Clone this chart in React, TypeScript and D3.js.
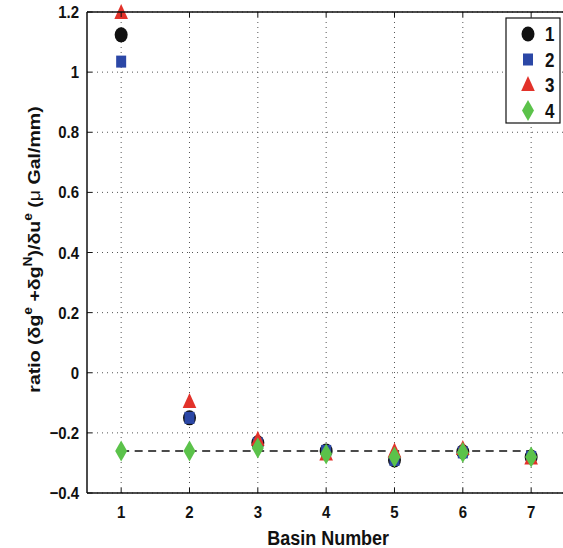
import React from "react";
import * as d3 from "d3";

const basins = [1, 2, 3, 4, 5, 6, 7];
const series1 = [1.124, -0.15, -0.233, -0.26, -0.29, -0.263, -0.28];
const series2 = [1.035, -0.15, -0.235, -0.26, -0.29, -0.265, -0.28];
const series3 = [1.197, -0.097, -0.223, -0.272, -0.262, -0.254, -0.285];
const series4 = [-0.26, -0.26, -0.25, -0.27, -0.28, -0.265, -0.28];
const refLevel = -0.26;
const yTicks = [-0.4, -0.2, 0, 0.2, 0.4, 0.6, 0.8, 1, 1.2];
const legendLabels = ["1", "2", "3", "4"];

const W = 563;
const H = 548;
const M = { left: 87, top: 12, bottom: 493 };
const font = "'Liberation Sans', Arial, Helvetica, sans-serif";
const SY = 1.15;

const colors = ["#111111", "#2b47a6", "#e2322a", "#5bc24a"];

function Marker({ kind, x, y }: { kind: number; x: number; y: number }) {
  if (kind === 0) return <ellipse cx={x} cy={y} rx={6.5} ry={7.5} fill={colors[0]} />;
  if (kind === 1) return <rect x={x - 5} y={y - 6} width={10} height={12} fill={colors[1]} />;
  if (kind === 2)
    return (
      <path d={`M${x},${y - 9}L${x + 6.8},${y + 6}L${x - 6.8},${y + 6}Z`} fill={colors[2]} />
    );
  return <path d={`M${x},${y - 10.5}L${x + 6},${y}L${x},${y + 10.5}L${x - 6},${y}Z`} fill={colors[3]} />;
}

function T({ x, y, anchor, size, children }: { x: number; y: number; anchor?: string; size: number; children: React.ReactNode }) {
  return (
    <text transform={`translate(${x},${y}) scale(1,${SY})`} textAnchor={anchor || "start"} fontSize={size} fontWeight="bold" fill="#111">
      {children}
    </text>
  );
}

export default function App() {
  const x = d3.scaleLinear().domain([0.5, 7.5]).range([M.left, M.left + 7 * 68.33]);
  const y = d3.scaleLinear().domain([-0.4, 1.2]).range([M.bottom, M.top]);
  const x0 = x(0.5);
  const x1 = x(7.5);
  const allSeries = [series1, series2, series3, series4];
  const fmt = (v: number) => (Math.abs(v) < 1e-9 ? "0" : String(+v.toFixed(1))).replace("-", "\u2212");

  return (
    <svg width={W} height={H} style={{ position: "absolute", left: 0, top: 0, background: "#fff" }} fontFamily={font}>
      {/* grid */}
      {basins.map((b) => (
        <line key={"gx" + b} x1={x(b)} x2={x(b)} y1={M.top} y2={M.bottom} stroke="#555" strokeWidth={1} strokeDasharray="1,4" />
      ))}
      {yTicks.map((t) => (
        <line key={"gy" + t} x1={x0} x2={x1} y1={y(t)} y2={y(t)} stroke="#555" strokeWidth={1} strokeDasharray="1,4" />
      ))}
      {/* dashed reference */}
      <line x1={x(1)} x2={x(7)} y1={y(refLevel)} y2={y(refLevel)} stroke="#111" strokeWidth={1.5} strokeDasharray="8,5.5" />
      {/* markers */}
      {allSeries.map((s, k) =>
        s.map((v, i) => <Marker key={k + "-" + i} kind={k} x={x(basins[i])} y={y(v)} />)
      )}
      {/* axes */}
      <line x1={x0} x2={x0} y1={M.top} y2={M.bottom} stroke="#111" strokeWidth={1.5} />
      <line x1={x0} x2={x1} y1={M.bottom} y2={M.bottom} stroke="#111" strokeWidth={1.5} />
      <line x1={x0} x2={x1} y1={M.top} y2={M.top} stroke="#111" strokeWidth={1.5} />
      {basins.map((b) => (
        <g key={"tx" + b}>
          <line x1={x(b)} x2={x(b)} y1={M.bottom} y2={M.bottom - 5} stroke="#111" />
          <line x1={x(b)} x2={x(b)} y1={M.top} y2={M.top + 5} stroke="#111" />
          <T x={x(b)} y={M.bottom + 25} anchor="middle" size={15}>
            {b}
          </T>
        </g>
      ))}
      {yTicks.map((t) => (
        <g key={"ty" + t}>
          <line x1={x0} x2={x0 + 5} y1={y(t)} y2={y(t)} stroke="#111" />
          <T x={x0 - 8} y={y(t) + 6} anchor="end" size={15}>
            {fmt(t)}
          </T>
        </g>
      ))}
      {/* x label */}
      <T x={(x0 + x1) / 2 + 2} y={545} anchor="middle" size={18}>
        Basin Number
      </T>
      {/* y label */}
      <text
        transform={`translate(40,${(M.top + M.bottom) / 2 - 3}) rotate(-90) scale(${SY},1)`}
        textAnchor="middle"
        fontSize={17}
        fontWeight="bold"
        fill="#111"
      >
        <tspan>ratio (δg</tspan>
        <tspan dy={-8} fontSize={12}>e</tspan>
        <tspan dy={8}> +δg</tspan>
        <tspan dy={-8} fontSize={12}>N</tspan>
        <tspan dy={8}>)/δu</tspan>
        <tspan dy={-8} fontSize={12}>e</tspan>
        <tspan dy={8}> (</tspan>
        <tspan fontWeight="normal">μ</tspan>
        <tspan> Gal/mm)</tspan>
      </text>
      {/* legend */}
      <rect x={506} y={18} width={54} height={105} fill="#fff" stroke="#111" strokeWidth={1.2} />
      {legendLabels.map((l, k) => {
        const ly = 34 + k * 25.5;
        return (
          <g key={"lg" + k}>
            <Marker kind={k} x={528} y={ly} />
            <T x={545} y={ly + 7} size={17}>
              {l}
            </T>
          </g>
        );
      })}
    </svg>
  );
}
